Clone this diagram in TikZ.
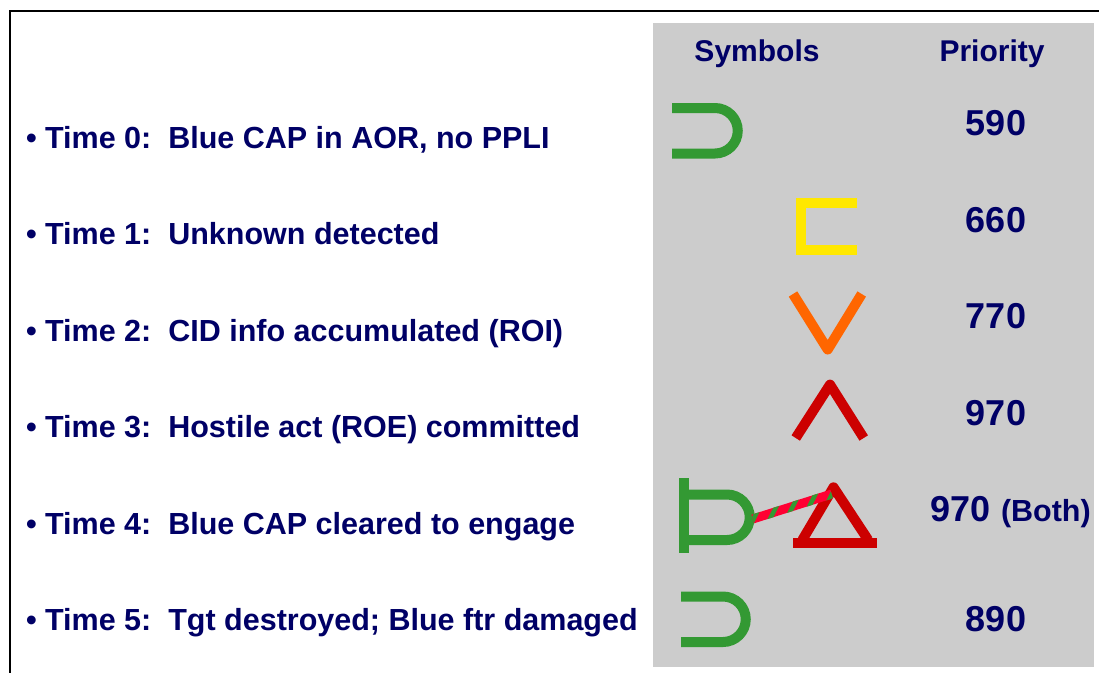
\documentclass[tikz,border=0pt]{standalone}
\usepackage{fontspec}
\setmainfont{Liberation Sans}
\definecolor{navytext}{HTML}{000066}
\definecolor{panelgray}{HTML}{CCCCCC}
\definecolor{capgreen}{HTML}{339933}
\definecolor{unkyellow}{HTML}{FFE800}
\definecolor{roiorange}{HTML}{FF6600}
\definecolor{hostred}{HTML}{CC0000}
\definecolor{linkred}{HTML}{FF0033}
\begin{document}
\begin{tikzpicture}[x=1pt, y=-1pt, line width=10pt, item/.style={anchor=base west, inner sep=0pt, text=navytext, font=\bfseries\fontsize{30.5}{36}\selectfont}, head/.style={anchor=base, inner sep=0pt, text=navytext, font=\bfseries\fontsize{30}{36}\selectfont}, prio/.style={anchor=base, inner sep=0pt, text=navytext, font=\bfseries\fontsize{36}{42}\selectfont}]
	\useasboundingbox (0, 0) rectangle (1099, 672);
	\draw[line width=2.5pt, line cap=rect] (10, 672) -- (10, 11) -- (1099, 11);
	\fill[panelgray] (653, 23) rectangle (1094, 667);
	\node[head] (H1) at (757, 61) {Symbols};
	\node[head] (H2) at (992, 61) {Priority};
	\node[item] (T0) at (21, 148) {• Time 0:\ \ Blue CAP in AOR, no PPLI};
	\node[item] (T1) at (21, 244) {• Time 1:\ \ Unknown detected};
	\node[item] (T2) at (21, 341) {• Time 2:\ \ CID info accumulated (ROI)};
	\node[item] (T3) at (21, 437) {• Time 3:\ \ Hostile act (ROE) committed};
	\node[item] (T4) at (21, 534) {• Time 4:\ \ Blue CAP cleared to engage};
	\node[item] (T5) at (21, 630) {• Time 5:\ \ Tgt destroyed; Blue ftr damaged};
	\node[prio] (P0) at (996, 135) {590};
	\node[prio] (P1) at (996, 232) {660};
	\node[prio] (P2) at (996, 328) {770};
	\node[prio] (P3) at (996, 425) {970};
	\node[prio] (P4) at (960.5, 521) {970};
	\node[anchor=base west, inner sep=0pt, text=navytext, font=\bfseries\fontsize{30.5}{36}\selectfont] (P4b) at (996, 521) {(Both)};
	\node[prio] (P5) at (996, 631) {890};
	% symbols
	\draw[capgreen] (672, 108) -- (715, 108) arc (-90:90:22.75) -- (672, 153.5);
	\draw[unkyellow, miter limit=10] (857, 203) -- (800.5, 203) -- (800.5, 250) -- (857, 250);
	\draw[roiorange, line join=round] (793, 294) -- (827.7, 349.5) -- (861.7, 294);
	\draw[hostred, line join=round] (795.7, 438) -- (830, 384.6) -- (863.7, 438);
	\draw[capgreen] (684, 478) -- (684, 553);
	\draw[capgreen] (684, 494.5) -- (727, 494.5) arc (-90:90:22.75) -- (684, 540);
	\draw[hostred, line join=round] (802.3, 540) -- (833.5, 487.3) -- (868.2, 540);
	\draw[hostred] (793, 542.5) -- (877, 542.5);
	\draw[capgreen] (681, 596.5) -- (723, 596.5) arc (-90:90:22.75) -- (681, 642);
	% link
	\coordinate (L1) at (752.7, 519);
	\coordinate (L2) at (831.7, 494);
	\draw[linkred, line width=9pt] (L1) -- (L2);
	\begin{scope}
		\clip (751.3, 514.7) -- (830.3, 489.7) -- (833.1, 498.3) -- (754.1, 523.3) -- cycle;
		\foreach \x in {0, 1, ..., 5}
		\draw[capgreen, line width=4.5pt] (748 + \x * 16.5, 530) -- (768 + \x * 16.5, 490);
	\end{scope}
\end{tikzpicture}
\end{document}
